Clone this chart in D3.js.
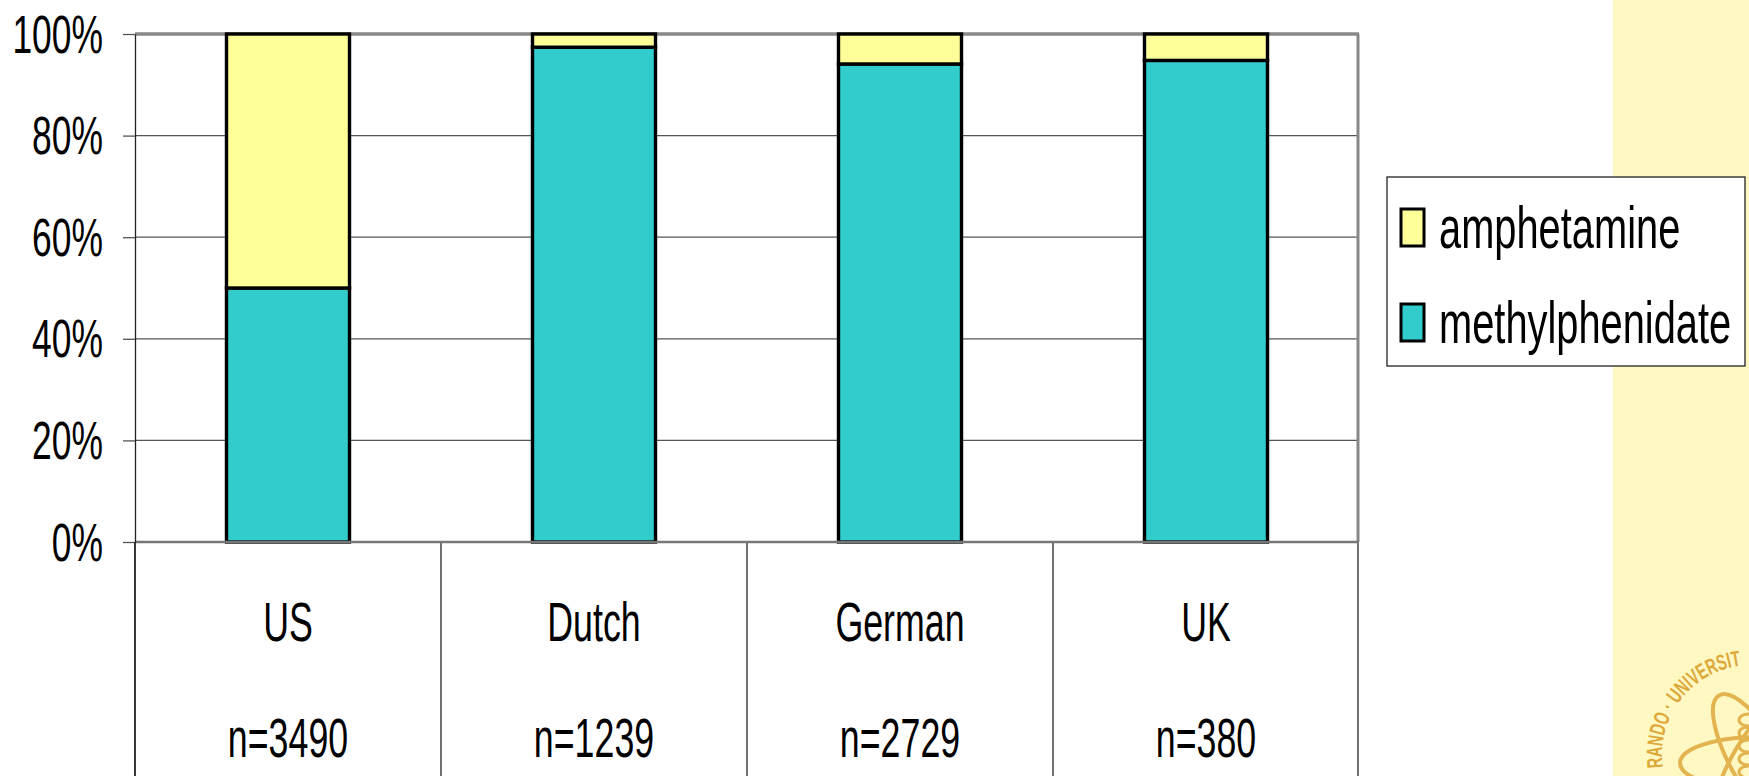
<!DOCTYPE html>
<html>
<head>
<meta charset="utf-8">
<script src="https://cdn.jsdelivr.net/npm/d3@7"></script>
<style>
  html, body { margin: 0; padding: 0; background: #ffffff; }
  svg { display: block; }
  text { font-family: "Liberation Sans", Arial, sans-serif; }
</style>
</head>
<body>
<svg id="chart" width="1749" height="776"></svg>
<script>
// ---- data ----
const categories = ["US", "Dutch", "German", "UK"];
const sampleSizes = ["n=3490", "n=1239", "n=2729", "n=380"];
const seriesNames = ["methylphenidate", "amphetamine"];
const methylphenidate = [0.50, 0.974, 0.941, 0.948];
const amphetamine = [0.50, 0.026, 0.059, 0.052];
const yTicks = [0, 0.2, 0.4, 0.6, 0.8, 1.0];
const yTickLabels = ["0%", "20%", "40%", "60%", "80%", "100%"];
const legendOrder = ["amphetamine", "methylphenidate"];

const colors = { methylphenidate: "#33CCCC", amphetamine: "#FFFF99" };

const svg = d3.select("#chart");
const W = 1749, H = 776;
svg.append("rect").attr("width", W).attr("height", H).attr("fill", "#ffffff");

// right decorative panel
svg.append("rect").attr("x", 1613).attr("y", 0).attr("width", W - 1613).attr("height", H).attr("fill", "#FFF8C2");

// seal (decorative)
const seal = svg.append("g").attr("opacity", 0.85);
const cx = 1752, cy = 755;
const gold = "#DDA83A";
[0, 60, 120].forEach(a => {
  seal.append("ellipse").attr("cx", cx + 6).attr("cy", cy + 8).attr("rx", 78).attr("ry", 26)
    .attr("transform", `rotate(${a},${cx + 6},${cy + 8})`)
    .attr("fill", "none").attr("stroke", gold).attr("stroke-width", 4);
});
for (let i = 0; i < 6; i++) {
  seal.append("ellipse").attr("cx", cx - 4).attr("cy", cy - 35 + i * 13).attr("rx", 9).attr("ry", 6)
    .attr("fill", "none").attr("stroke", gold).attr("stroke-width", 3);
}
const r = 90;
const a0 = 172 * Math.PI / 180, a1 = 300 * Math.PI / 180;
const arcPath = d3.path();
arcPath.arc(cx, cy, r, a0, a1, false);
svg.append("defs").append("path").attr("id", "sealArc").attr("d", arcPath.toString());
svg.append("text").attr("fill", gold).attr("font-family", "Liberation Serif, serif").attr("font-weight", "bold")
  .attr("font-size", 22)
  .append("textPath").attr("href", "#sealArc")
  .attr("textLength", 143).attr("lengthAdjust", "spacingAndGlyphs")
  .text("RANDO · UNIVERSIT");

// ---- scales ----
const plotL = 135, plotR = 1359, plotT = 34, plotB = 542;
const x = d3.scaleBand().domain(categories).range([plotL, plotR]).padding(0);
const y = d3.scaleLinear().domain([0, 1]).range([plotB, plotT]);
const barFrac = 0.402;

// gridlines
const grid = svg.append("g");
yTicks.filter(t => t > 0 && t < 1).forEach(t => {
  grid.append("line").attr("x1", plotL).attr("x2", plotR).attr("y1", y(t)).attr("y2", y(t))
    .attr("stroke", "#555").attr("stroke-width", 1.3);
});
// top and right plot border (gray)
svg.append("line").attr("x1", plotL).attr("x2", plotR).attr("y1", y(1)).attr("y2", y(1))
  .attr("stroke", "#888").attr("stroke-width", 3.5);
svg.append("line").attr("x1", plotR - 1).attr("x2", plotR - 1).attr("y1", y(1)).attr("y2", y(0))
  .attr("stroke", "#888").attr("stroke-width", 3);

// category table lines below the axis
categories.forEach((c, i) => {
  svg.append("line").attr("x1", x(c)).attr("x2", x(c)).attr("y1", y(0)).attr("y2", H)
    .attr("stroke", "#111").attr("stroke-width", 1.2);
});
svg.append("line").attr("x1", plotR - 1).attr("x2", plotR - 1).attr("y1", y(0)).attr("y2", H)
  .attr("stroke", "#111").attr("stroke-width", 1.2);

// bars
const stackData = categories.map((c, i) => ({ cat: c, methylphenidate: methylphenidate[i], amphetamine: amphetamine[i] }));
const stack = d3.stack().keys(seriesNames)(stackData);
const bw = x.bandwidth() * barFrac;
stack.forEach(layer => {
  svg.append("g").selectAll("rect").data(layer).join("rect")
    .attr("x", d => x(d.data.cat) + (x.bandwidth() - bw) / 2)
    .attr("width", bw)
    .attr("y", d => y(d[1]))
    .attr("height", d => y(d[0]) - y(d[1]))
    .attr("fill", colors[layer.key])
    .attr("stroke", "#000").attr("stroke-width", 3.4);
});

// bottom axis line (0%)
svg.append("line").attr("x1", plotL).attr("x2", plotR).attr("y1", y(0)).attr("y2", y(0))
  .attr("stroke", "#777").attr("stroke-width", 2.5);

// y axis
const yAxis = d3.axisLeft(y).tickValues(yTicks).tickFormat((d, i) => yTickLabels[i]).tickSize(12).tickSizeOuter(0);
const yg = svg.append("g").attr("transform", `translate(${plotL},0)`).call(yAxis);
yg.select(".domain").attr("stroke", "#222").attr("stroke-width", 1.3);
yg.selectAll(".tick line").attr("stroke", "#555").attr("stroke-width", 1.3);
yg.selectAll(".tick text")
  .attr("x", 0).attr("dy", null).attr("y", 0)
  .attr("text-anchor", "end")
  .attr("font-family", "Liberation Sans, Arial, sans-serif")
  .attr("font-size", 54.5).attr("fill", "#000")
  .attr("transform", "translate(-32,18) scale(0.65,1)");
// left axis continues down through the table
svg.append("line").attr("x1", plotL).attr("x2", plotL).attr("y1", y(0)).attr("y2", H)
  .attr("stroke", "#111").attr("stroke-width", 1.2);

// category labels
categories.forEach((c, i) => {
  const cxp = x(c) + x.bandwidth() / 2;
  svg.append("text").attr("text-anchor", "middle").attr("font-size", 55).attr("fill", "#000")
    .attr("transform", `translate(${cxp},641) scale(0.65,1)`).text(c);
  svg.append("text").attr("text-anchor", "middle").attr("font-size", 55).attr("fill", "#000")
    .attr("transform", `translate(${cxp},757) scale(0.65,1)`).text(sampleSizes[i]);
});

// legend
const lg = svg.append("g");
lg.append("rect").attr("x", 1387).attr("y", 177).attr("width", 358).attr("height", 189)
  .attr("fill", "#fff").attr("stroke", "#222").attr("stroke-width", 1.3);
legendOrder.forEach((k, i) => {
  const yy = 209 + i * 95;
  lg.append("rect").attr("x", 1401).attr("y", yy).attr("width", 23).attr("height", 37)
    .attr("fill", colors[k]).attr("stroke", "#000").attr("stroke-width", 3);
  lg.append("text").attr("font-size", 59).attr("fill", "#000")
    .attr("transform", `translate(1439,${yy + 39}) scale(0.675,1)`).text(k);
});
</script>
</body>
</html>
